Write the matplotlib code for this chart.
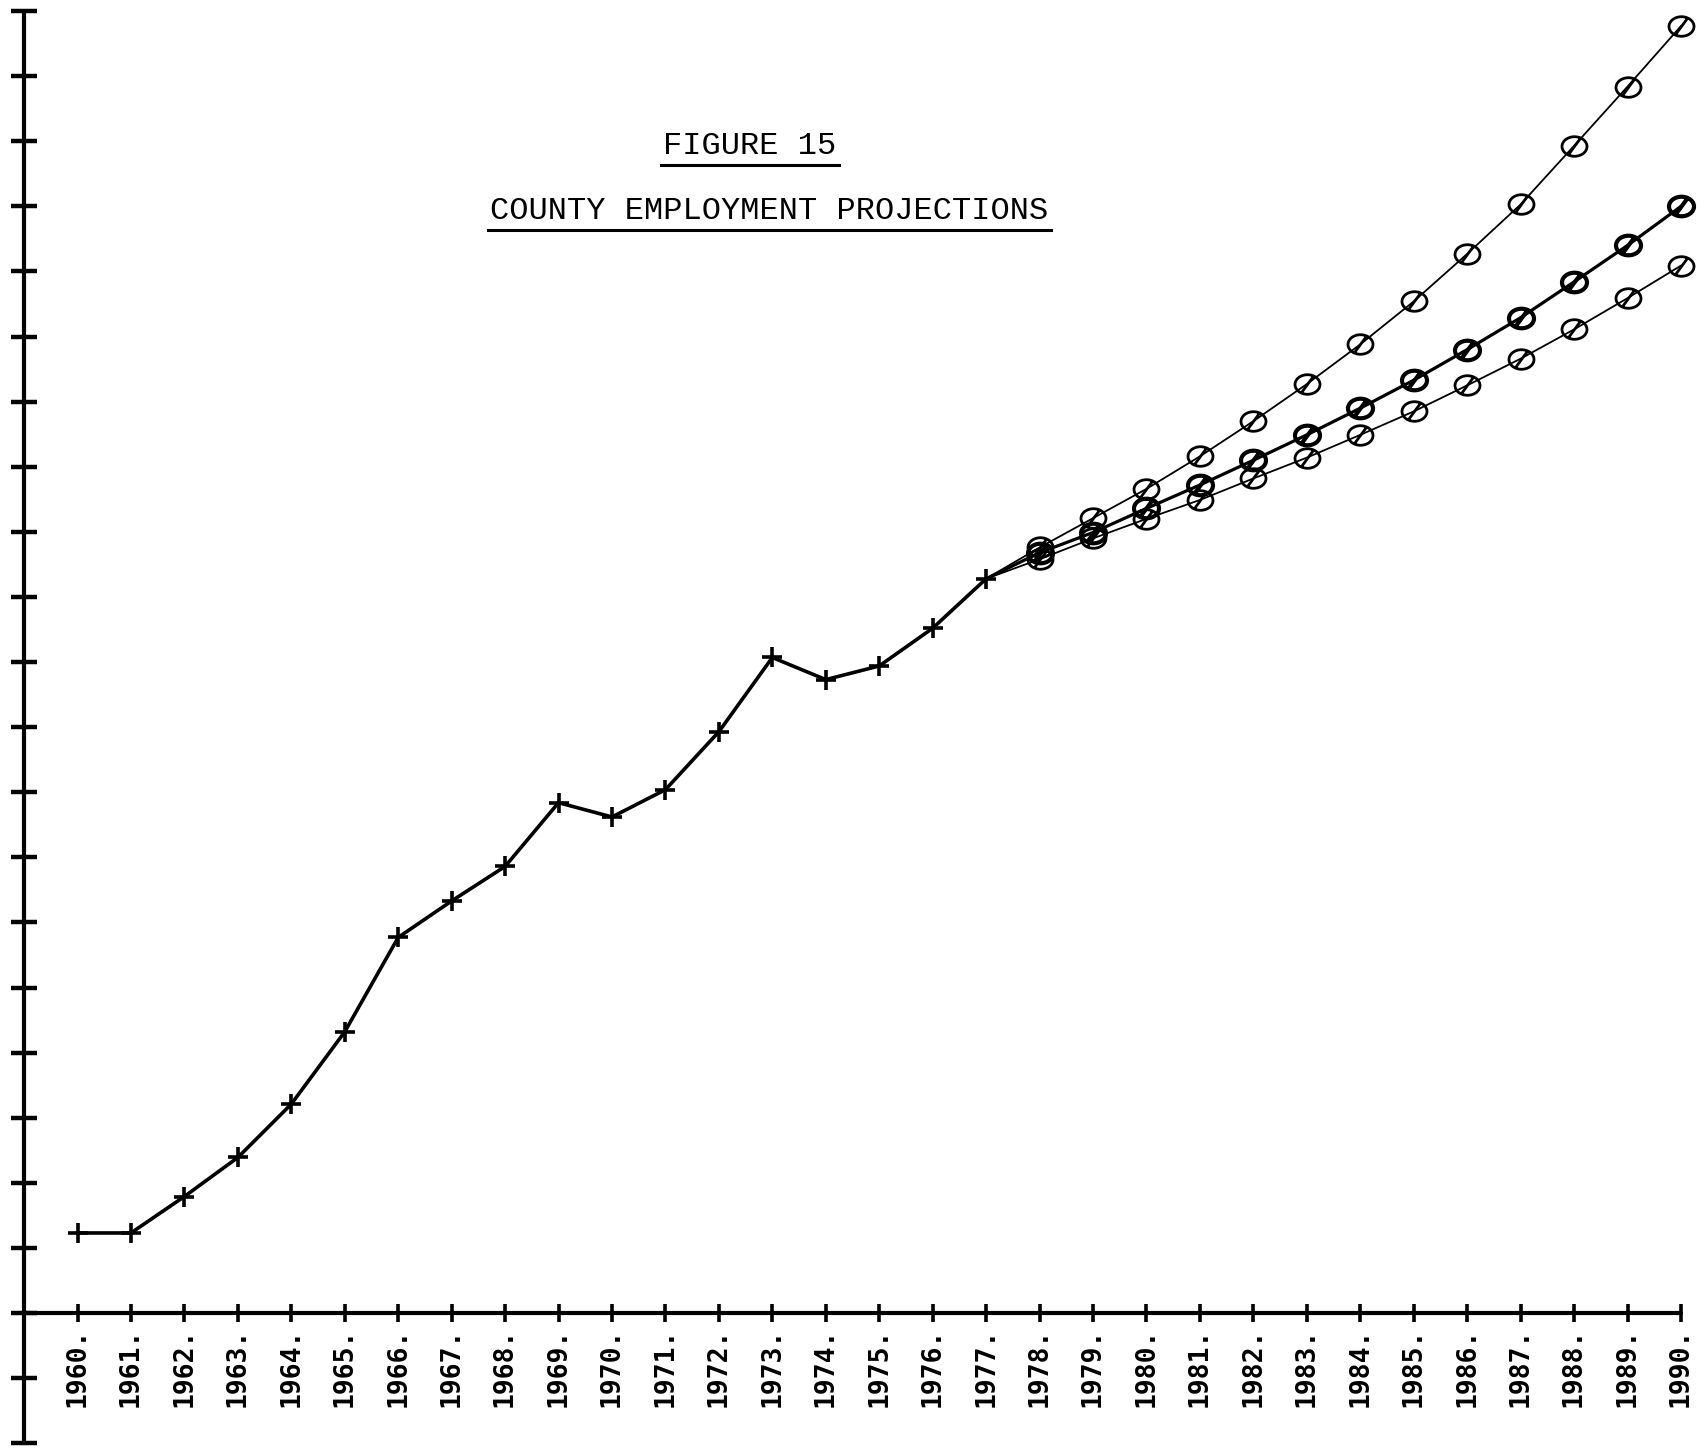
import matplotlib
matplotlib.use("Agg")
import matplotlib.pyplot as plt
from matplotlib.path import Path
from matplotlib.lines import Line2D
import numpy as np

# county employment, historical series (plot units)
HIST_YEARS = list(range(1960, 1978))
HIST_VALUES = [1.23, 1.23, 1.79, 2.39, 3.21, 4.32, 5.77, 6.33, 6.86, 7.84,
               7.62, 8.04, 8.93, 10.07, 9.73, 9.94, 10.52, 11.28]

# projections 1978-1990
PROJ_YEARS = list(range(1978, 1991))
PROJ_HIGH = [11.76, 12.21, 12.66, 13.16, 13.70, 14.27, 14.88, 15.54, 16.27,
             17.03, 17.93, 18.84, 19.77]
PROJ_MID = [11.68, 11.99, 12.36, 12.72, 13.10, 13.49, 13.90, 14.33, 14.80,
            15.29, 15.84, 16.40, 17.00]
PROJ_LOW = [11.58, 11.90, 12.20, 12.49, 12.82, 13.14, 13.49, 13.85, 14.25,
            14.66, 15.11, 15.59, 16.09]

X_TICKS = list(range(1960, 1991))
X_TICK_LABELS = [f"{y}." for y in X_TICKS]
Y_TICKS = list(range(-2, 21))

TITLE_1 = "FIGURE 15"
TITLE_2 = "COUNTY EMPLOYMENT PROJECTIONS"


def slashed_circle():
    """Plotter-style symbol: a slightly flat circle with a diagonal stroke."""
    circ = Path.unit_circle()
    verts = circ.vertices * np.array([1.15, 0.9])
    ring = Path(verts, circ.codes)
    slash = Path([(-0.55, -0.75), (0.55, 0.75)], [Path.MOVETO, Path.LINETO])
    return Path.make_compound_path(ring, slash)


fig = plt.figure(figsize=(16.97, 14.53), dpi=100)
ax = fig.add_axes([0, 0, 1, 1])
ax.set_xlim(1958.55, 1990.3)
ax.set_ylim(-2.15, 20.17)

# axes drawn like the pen plotter: crossing at (1959, 0)
for side in ("top", "right"):
    ax.spines[side].set_visible(False)
ax.spines["left"].set_position(("data", 1959))
ax.spines["left"].set_bounds(-2, 20)
ax.spines["bottom"].set_position(("data", 0))
ax.spines["bottom"].set_bounds(1959, 1990)
for side in ("left", "bottom"):
    ax.spines[side].set_linewidth(3)
    ax.spines[side].set_capstyle("round")

ax.set_yticks(Y_TICKS)
ax.set_yticklabels([])
ax.tick_params(axis="y", direction="inout", length=19, width=3.2)
ax.set_xticks(X_TICKS)
ax.set_xticklabels(X_TICK_LABELS, rotation=90, family="DejaVu Sans Mono",
                   fontsize=19, fontweight="bold")
ax.tick_params(axis="x", direction="inout", length=13, width=2.6, pad=4)

# historical
ax.plot(HIST_YEARS, HIST_VALUES, color="black", lw=2.6, marker="+",
        ms=15, mew=2.6, solid_joinstyle="round", zorder=4)

# projections start from the last observed year
sym = slashed_circle()
base_x, base_y = HIST_YEARS[-1], HIST_VALUES[-1]
for vals, lw in ((PROJ_HIGH, 1.3), (PROJ_LOW, 1.3), (PROJ_MID, 2.3)):
    ax.plot([base_x] + PROJ_YEARS, [base_y] + vals, color="black", lw=lw,
            zorder=3)
    ax.plot(PROJ_YEARS, vals, ls="none", marker=sym, ms=18, mfc="none",
            mec="black", mew=lw + 0.7, zorder=5)

t1 = fig.text(0.442, 0.8995, TITLE_1, ha="center", va="center",
              family="Liberation Mono", fontsize=23, color="black")
t2 = fig.text(0.4535, 0.8548, TITLE_2, ha="center", va="center",
              family="Liberation Mono", fontsize=23, color="black")

# underline both title lines
fig.canvas.draw()
inv = fig.transFigure.inverted()
for t in (t1, t2):
    bb = t.get_window_extent()
    (x0, y0), (x1, _) = inv.transform([(bb.x0 - 2, bb.y0 - 4), (bb.x1 + 2, bb.y0)])
    fig.add_artist(Line2D([x0, x1], [y0, y0], color="black", lw=2.2,
                          transform=fig.transFigure))

fig.savefig("out.png", dpi=100, facecolor="white")
